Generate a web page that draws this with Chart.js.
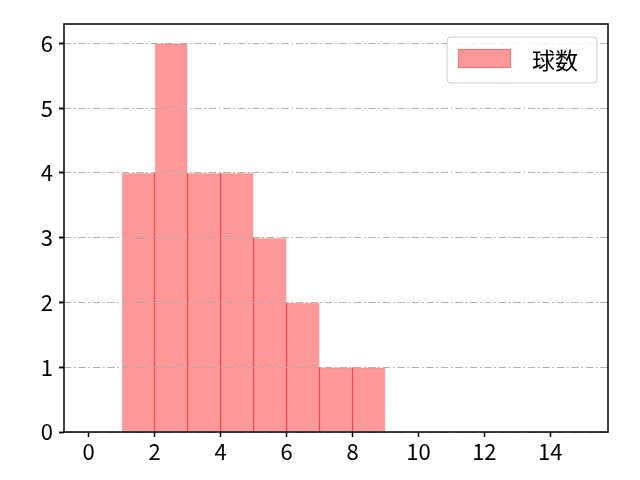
<!DOCTYPE html>
<html><head><meta charset="utf-8">
<script src="https://cdn.jsdelivr.net/npm/chart.js@4/dist/chart.umd.min.js"></script>
<style>html,body{margin:0;padding:0;background:#fff}#wrap{width:640px;height:480px}</style>
</head><body><div id="wrap"><canvas id="c" width="640" height="480"></canvas></div>
<script>
const binCenters = [1.5, 2.5, 3.5, 4.5, 5.5, 6.5, 7.5, 8.5];
const counts = [4, 6, 4, 4, 3, 2, 1, 1];
const xTicks = [0, 2, 4, 6, 8, 10, 12, 14];
const yTicks = [0, 1, 2, 3, 4, 5, 6];
const seriesLabel = '球数';

const FONT = '"Noto Sans CJK JP", "Noto Sans", sans-serif';

const overlayPlugin = {
  id: 'overlay',
  afterDatasetsDraw(chart) {
    const {ctx} = chart;
    const bars = chart.getDatasetMeta(0).data;
    ctx.save();
    // seams between adjacent bars (overlapping edges)
    ctx.strokeStyle = 'rgba(240,20,20,0.75)';
    ctx.lineWidth = 1.2;
    for (let i = 1; i < bars.length; i++) {
      const p = bars[i - 1].getProps(['x', 'y', 'base', 'width'], true);
      const q = bars[i].getProps(['x', 'y', 'base', 'width'], true);
      const xs = q.x - q.width / 2;
      const top = Math.max(p.y, q.y);
      ctx.beginPath();
      ctx.moveTo(xs, q.base);
      ctx.lineTo(xs, top);
      ctx.stroke();
    }
    ctx.restore();
    // grid drawn above the bars
    chart.scales.y.drawGrid(chart.chartArea);
  },
  afterDraw(chart) {
    const {ctx, chartArea: a} = chart;
    ctx.save();
    ctx.strokeStyle = '#000';
    ctx.lineWidth = 1.5;
    ctx.strokeRect(a.left, a.top, a.right - a.left, a.bottom - a.top);
    // legend
    const bx = 447, by = 37, bw = 150, bh = 46, r = 4;
    ctx.beginPath();
    ctx.moveTo(bx + r, by);
    ctx.arcTo(bx + bw, by, bx + bw, by + bh, r);
    ctx.arcTo(bx + bw, by + bh, bx, by + bh, r);
    ctx.arcTo(bx, by + bh, bx, by, r);
    ctx.arcTo(bx, by, bx + bw, by, r);
    ctx.closePath();
    ctx.fillStyle = 'rgba(255,255,255,0.8)';
    ctx.fill();
    ctx.lineWidth = 1;
    ctx.strokeStyle = '#cccccc';
    ctx.stroke();
    ctx.fillStyle = 'rgba(255,0,0,0.4)';
    ctx.fillRect(458, 49, 53, 19);
    ctx.strokeStyle = 'rgba(255,0,0,0.25)';
    ctx.strokeRect(458.5, 49.5, 52, 18);
    ctx.fillStyle = '#000';
    ctx.font = '23px ' + FONT;
    ctx.textBaseline = 'middle';
    ctx.fillText(seriesLabel, 532, 60);
    ctx.restore();
  }
};

new Chart(document.getElementById('c'), {
  type: 'bar',
  data: {
    datasets: [{
      label: seriesLabel,
      data: binCenters.map((x, i) => ({x: x, y: counts[i]})),
      backgroundColor: 'rgba(255,0,0,0.4)',
      borderColor: 'rgba(255,0,0,0.12)',
      borderWidth: {top: 1, left: 1, right: 1, bottom: 0},
      borderSkipped: false,
      categoryPercentage: 1.0,
      barPercentage: 1.0,
      grouped: false
    }]
  },
  options: {
    responsive: false,
    animation: false,
    devicePixelRatio: 1,
    layout: {padding: {top: 24, right: 32, left: 0, bottom: 0}},
    plugins: {legend: {display: false}, tooltip: {enabled: false}},
    scales: {
      x: {
        type: 'linear',
        offset: false,
        min: -0.75,
        max: 15.75,
        afterBuildTicks: (s) => { s.ticks = xTicks.map(v => ({value: v})); },
        afterFit: (s) => { s.height = 48; },
        grid: {offset: false, drawOnChartArea: false, drawTicks: true, tickLength: 5, tickColor: '#000', tickWidth: 1.5},
        border: {display: false},
        ticks: {color: '#000', font: {family: FONT, size: 22}, padding: 1, maxRotation: 0, autoSkip: false}
      },
      y: {
        min: 0,
        max: 6.3,
        afterBuildTicks: (s) => { s.ticks = yTicks.map(v => ({value: v})); },
        afterFit: (s) => { s.width = 64; },
        grid: {color: '#b0b0b0', lineWidth: 1, drawTicks: true, tickLength: 5, tickColor: '#000', tickWidth: 1.5},
        border: {display: false, dash: [7, 3, 1.5, 3]},
        ticks: {color: '#000', font: {family: FONT, size: 22}, padding: 6, autoSkip: false}
      }
    }
  },
  plugins: [overlayPlugin]
});
</script>
</body></html>
